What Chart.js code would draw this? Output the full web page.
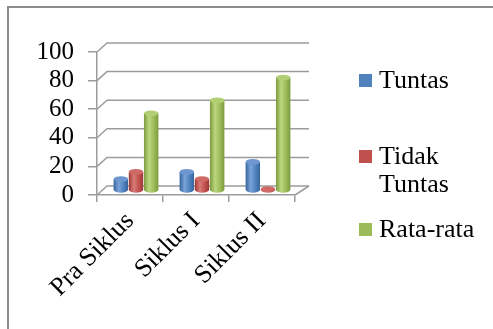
<!DOCTYPE html>
<html>
<head>
<meta charset="utf-8">
<script src="https://cdn.jsdelivr.net/npm/chart.js@4/dist/chart.umd.min.js"></script>
<style>
  html, body { margin: 0; padding: 0; background: #fff; }
  #wrap { position: relative; width: 493px; height: 329px; overflow: hidden; background: #fff; }
  #chart { position: absolute; left: 0; top: 0; }
  #legend { position: absolute; left: 359px; top: 0; width: 130px; margin: 0; padding: 0;
            list-style: none; font-family: 'Liberation Serif', 'Times New Roman', serif;
            font-size: 26px; line-height: 28px; color: #000; }
  #legend li { position: absolute; left: 0; padding-left: 20px; width: 110px; }
  #legend li i { position: absolute; left: 0; top: 8px; width: 13px; height: 13px; }
  #legend li:nth-child(1) { top: 66px; }
  #legend li:nth-child(2) { top: 142px; }
  #legend li:nth-child(3) { top: 215px; }
</style>
</head>
<body>
<div id="wrap">
  <canvas id="chart" width="493" height="329"></canvas>
  <ul id="legend"></ul>
</div>
<script>
// data
const categories = ['Pra Siklus', 'Siklus I', 'Siklus II'];
const seriesNames = ['Tuntas', 'Tidak Tuntas', 'Rata-rata'];
const tuntas = [8, 13, 20];
const tidakTuntas = [13, 8, 1];
const rataRata = [54, 63, 79];
const yTicks = [0, 20, 40, 60, 80, 100];

// Excel 2007 colours: base, light, dark
const palette = [
  { base: '#4F81BD', light: '#7aa3da', dark: '#36649c', top: '#6f97cf' },
  { base: '#C0504D', light: '#da7b78', dark: '#9b3835', top: '#d06a67' },
  { base: '#9BBB59', light: '#bcd77f', dark: '#7b9a3c', top: '#b2cf74' },
];
const GRID = '#9c9c9c';
const DEPTH_L = 10, DEPTH_R = 14, RISE = 9;

Chart.defaults.font.family = "'Liberation Serif', 'Times New Roman', serif";
Chart.defaults.color = '#000';

// outer frame (left + top edge, the rest is cut off)
const frame = {
  id: 'frame',
  beforeDraw(chart) {
    const ctx = chart.ctx;
    ctx.save();
    ctx.strokeStyle = '#8c8c8c';
    ctx.lineWidth = 2;
    ctx.beginPath();
    ctx.moveTo(8, chart.height);
    ctx.lineTo(8, 7);
    ctx.lineTo(chart.width, 7);
    ctx.stroke();
    ctx.restore();
  }
};

// back wall, side wall and floor
const walls = {
  id: 'walls',
  beforeDatasetsDraw(chart) {
    const { ctx, chartArea: a, scales: { y } } = chart;
    ctx.save();
    ctx.strokeStyle = GRID;
    ctx.lineWidth = 1.5;
    yTicks.forEach(v => {
      const py = y.getPixelForValue(v);
      ctx.beginPath();
      ctx.moveTo(a.left, py);
      ctx.lineTo(a.left + DEPTH_L, py - RISE);
      ctx.lineTo(a.right + DEPTH_R, py - RISE);
      ctx.stroke();
    });
    ctx.beginPath();
    ctx.moveTo(a.right, a.bottom);
    ctx.lineTo(a.right + DEPTH_R, a.bottom - RISE);
    ctx.stroke();
    ctx.restore();
  }
};

// cylinders instead of flat bars
const cylinders = {
  id: 'cylinders',
  beforeDatasetDraw() { return false; },
  afterDatasetsDraw(chart) {
    const ctx = chart.ctx;
    const shiftX = (DEPTH_L + DEPTH_R) / 4, shiftY = RISE / 2;
    chart.data.datasets.forEach((ds, i) => {
      const c = palette[i];
      chart.getDatasetMeta(i).data.forEach(el => {
        const w = el.width * 0.95, rx = w / 2, ry = w * 0.2;
        const cx = el.x + shiftX, top = el.y - shiftY, base = el.base - shiftY;
        const g = ctx.createLinearGradient(cx - rx, 0, cx + rx, 0);
        g.addColorStop(0, c.dark);
        g.addColorStop(0.35, c.light);
        g.addColorStop(0.7, c.base);
        g.addColorStop(1, c.dark);
        ctx.save();
        ctx.fillStyle = g;
        ctx.beginPath();
        ctx.moveTo(cx - rx, top);
        ctx.lineTo(cx - rx, base);
        ctx.ellipse(cx, base, rx, ry, 0, Math.PI, 0, true);
        ctx.lineTo(cx + rx, top);
        ctx.closePath();
        ctx.fill();
        ctx.fillStyle = c.top;
        ctx.beginPath();
        ctx.ellipse(cx, top, rx, ry, 0, 0, Math.PI * 2);
        ctx.fill();
        ctx.restore();
      });
    });
  }
};

new Chart(document.getElementById('chart'), {
  type: 'bar',
  data: {
    labels: categories,
    datasets: [tuntas, tidakTuntas, rataRata].map((d, i) => ({
      label: seriesNames[i],
      data: d,
      backgroundColor: palette[i].base,
      categoryPercentage: 0.69,
      barPercentage: 1
    }))
  },
  options: {
    responsive: false,
    animation: false,
    layout: { padding: { top: 52, right: 198, left: 0, bottom: 0 } },
    plugins: { legend: { display: false }, tooltip: { enabled: false } },
    scales: {
      x: {
        afterFit: s => { s.height = 134; },
        grid: { offset: true, drawOnChartArea: false, drawTicks: true, tickLength: 7, color: GRID, lineWidth: 1.5 },
        border: { display: true, color: GRID, width: 1.5 },
        ticks: { font: { size: 26 }, minRotation: 45, maxRotation: 45, padding: 4, color: '#000' }
      },
      y: {
        min: 0, max: 100,
        afterFit: s => { s.width = 97; },
        afterBuildTicks: s => { s.ticks = yTicks.map(v => ({ value: v })); },
        grid: { drawOnChartArea: false, drawTicks: true, tickLength: 9, color: GRID, lineWidth: 1.5 },
        border: { display: true, color: GRID, width: 1.5 },
        ticks: { font: { size: 25 }, padding: 14, autoSkip: false, color: '#000' }
      }
    }
  },
  plugins: [frame, walls, cylinders]
});

// legend
document.getElementById('legend').innerHTML = seriesNames.map(
  (n, i) => `<li><i style="background:${palette[i].base}"></i>${n}</li>`
).join('');
</script>
</body>
</html>
